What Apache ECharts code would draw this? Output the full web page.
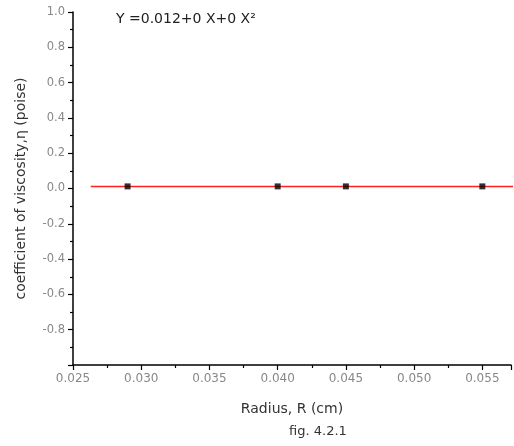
<!DOCTYPE html>
<html><head><meta charset="utf-8">
<script src="https://cdn.jsdelivr.net/npm/echarts@6/dist/echarts.min.js"></script>
<style>html,body{margin:0;padding:0;background:#fff;overflow:hidden}#c{width:514px;height:446px}</style>
</head><body><div id="c"></div>
<script>
const radius = [0.029, 0.040, 0.045, 0.055];
const viscosity = [0.012, 0.012, 0.012, 0.012];
const fitX = [0.0263, 0.0573];
const fitY = [0.012, 0.012];
const equation = 'Y =0.012+0 X+0 X\u00B2';
const xName = 'Radius, R (cm)';
const yName = 'coefficient of viscosity,\u03B7 (poise)';
const caption = 'fig. 4.2.1';

const chart = echarts.init(document.getElementById('c'));
const font = 'DejaVu Sans, sans-serif';
chart.setOption({
  animation: false,
  grid: {left: 73, top: 12, right: 0, bottom: 81},
  xAxis: {
    type: 'value', min: 0.025, max: 0.0571, interval: 0.005,
    name: xName, nameLocation: 'middle', nameGap: 37,
    nameTextStyle: {color: '#333', fontSize: 14, fontFamily: font},
    axisLine: {show: true, onZero: false, lineStyle: {color: '#000', width: 1.5}},
    axisTick: {show: true, inside: false, length: 5, lineStyle: {color: '#000', width: 1.2}},
    minorTick: {show: true, splitNumber: 2, length: 3, lineStyle: {color: '#000', width: 1.2}},
    axisLabel: {color: '#888', fontSize: 12, fontFamily: font, margin: 8,
      formatter: v => v > 0.0566 ? '' : v.toFixed(3)},
    splitLine: {show: false}
  },
  yAxis: {
    type: 'value', min: -1, max: 1, interval: 0.2,
    name: yName, nameLocation: 'middle', nameGap: 45,
    nameTextStyle: {color: '#333', fontSize: 14, fontFamily: font},
    axisLine: {show: true, onZero: false, lineStyle: {color: '#000', width: 1.5}},
    axisTick: {show: true, inside: false, length: 5, lineStyle: {color: '#000', width: 1.2}},
    minorTick: {show: true, splitNumber: 2, length: 3, lineStyle: {color: '#000', width: 1.2}},
    axisLabel: {color: '#888', fontSize: 11.5, fontFamily: font, margin: 8,
      formatter: v => v <= -0.99 ? '' : v.toFixed(1)},
    splitLine: {show: false}
  },
  series: [
    {type: 'line', data: fitX.map((x, i) => [x, fitY[i]]), symbol: 'none',
      lineStyle: {color: '#ff2020', width: 1.5}, z: 2},
    {type: 'scatter', data: radius.map((x, i) => [x, viscosity[i]]), symbol: 'rect',
      symbolSize: 6, itemStyle: {color: '#000'}, z: 3}
  ],
  graphic: [
    {type: 'text', x: 116, y: 19, style: {text: equation, fill: '#222', font: '14px ' + font, verticalAlign: 'middle'}},
    {type: 'text', x: 318, y: 432, style: {text: caption, fill: '#333', font: '13px ' + font, align: 'center', verticalAlign: 'middle'}}
  ]
});
</script></body></html>
